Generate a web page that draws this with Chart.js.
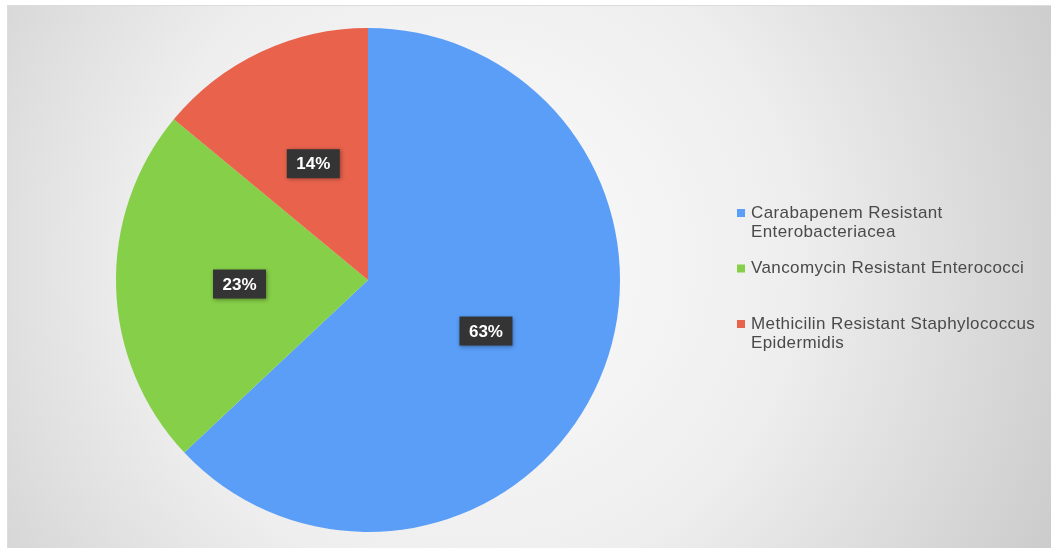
<!DOCTYPE html>
<html>
<head>
<meta charset="utf-8">
<title>Resistant organisms</title>
<script src="https://cdn.jsdelivr.net/npm/chart.js@4.4.0/dist/chart.umd.min.js"></script>
<style>
  html, body { margin: 0; padding: 0; background: #fff; }
  #wrap { width: 1051px; height: 548px; }
</style>
</head>
<body>
<div id="wrap"><canvas id="chart" width="1051" height="548"></canvas></div>
<script>
// chart data
const categories = [
  ['Carabapenem Resistant', 'Enterobacteriacea'],
  ['Vancomycin Resistant Enterococci'],
  ['Methicilin Resistant Staphylococcus', 'Epidermidis']
];
const shares = [63, 23, 14];
const sliceColors = ['#5a9ef8', '#86cf48', '#e8624c'];

// gray radial background behind everything
const backdrop = {
  id: 'backdrop',
  beforeDraw(chart) {
    const ctx = chart.ctx;
    const w = chart.width, h = chart.height;
    ctx.save();
    ctx.fillStyle = '#ffffff';
    ctx.fillRect(0, 0, w, h);
    const g = ctx.createRadialGradient(470, 260, 20, 470, 260, 700);
    g.addColorStop(0, '#fbfbfb');
    g.addColorStop(0.45, '#eeeeee');
    g.addColorStop(1, '#c6c6c6');
    ctx.fillStyle = g;
    ctx.fillRect(7, 5, w - 7, h - 5);
    ctx.strokeStyle = '#dcdcdc';
    ctx.lineWidth = 1;
    ctx.beginPath();
    ctx.moveTo(7.5, h);
    ctx.lineTo(7.5, 5.5);
    ctx.lineTo(w, 5.5);
    ctx.stroke();
    ctx.restore();
  }
};

// dark boxes with percentage inside each slice
const sliceLabels = {
  id: 'sliceLabels',
  afterDatasetsDraw(chart) {
    const ctx = chart.ctx;
    const meta = chart.getDatasetMeta(0);
    ctx.save();
    ctx.font = 'bold 17px "Liberation Sans", Arial, sans-serif';
    ctx.textAlign = 'center';
    ctx.textBaseline = 'middle';
    meta.data.forEach((arc, i) => {
      const mid = (arc.startAngle + arc.endAngle) / 2;
      const r = arc.outerRadius * 0.51;
      const x = arc.x + Math.cos(mid) * r;
      const y = arc.y + Math.sin(mid) * r;
      const txt = shares[i] + '%';
      const bw = 53, bh = 29;
      ctx.shadowColor = 'rgba(0,0,0,0.35)';
      ctx.shadowBlur = 4;
      ctx.shadowOffsetX = 1;
      ctx.shadowOffsetY = 1;
      ctx.fillStyle = '#343434';
      ctx.fillRect(x - bw / 2, y - bh / 2, bw, bh);
      ctx.shadowColor = 'transparent';
      ctx.fillStyle = '#ffffff';
      ctx.fillText(txt, x, y + 1);
    });
    ctx.restore();
  }
};

// legend on the right, one 56px slot per item
const sideLegend = {
  id: 'sideLegend',
  afterDraw(chart) {
    const ctx = chart.ctx;
    ctx.save();
    ctx.font = '17px "Liberation Sans", Arial, sans-serif';
    ctx.letterSpacing = '0.4px';
    ctx.textBaseline = 'middle';
    ctx.textAlign = 'left';
    categories.forEach((lines, i) => {
      const top = 213 + i * 55.5;
      ctx.fillStyle = sliceColors[i];
      ctx.fillRect(737, top - 4, 8, 8);
      ctx.fillStyle = '#4a4a4a';
      lines.forEach((ln, j) => {
        ctx.fillText(ln, 751, top + j * 19);
      });
    });
    ctx.restore();
  }
};

new Chart(document.getElementById('chart'), {
  type: 'pie',
  data: {
    labels: categories.map(c => c.join(' ')),
    datasets: [{
      data: shares,
      backgroundColor: sliceColors,
      borderWidth: 0
    }]
  },
  options: {
    responsive: false,
    animation: false,
    layout: { padding: { left: 116, right: 431, top: 28, bottom: 16 } },
    plugins: {
      legend: { display: false },
      tooltip: { enabled: false }
    }
  },
  plugins: [backdrop, sliceLabels, sideLegend]
});
</script>
</body>
</html>
